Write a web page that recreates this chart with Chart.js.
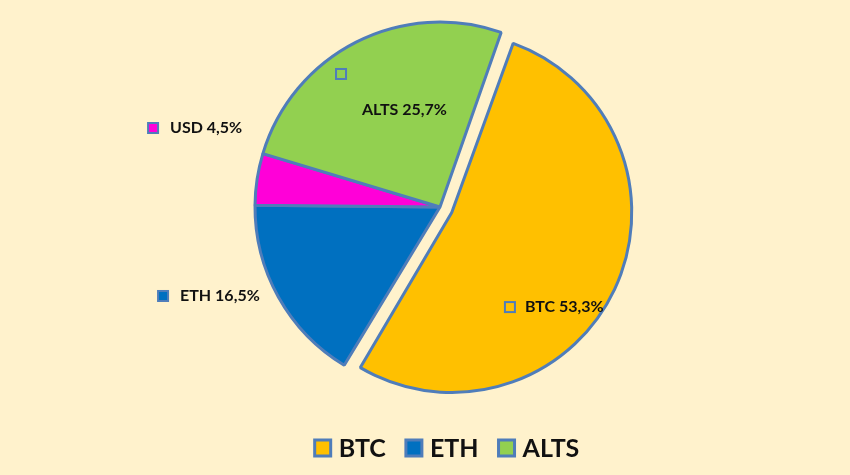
<!DOCTYPE html>
<html>
<head>
<meta charset="utf-8">
<script src="https://cdn.jsdelivr.net/npm/chart.js@4"></script>
<style>
  html, body { margin: 0; padding: 0; background: #FFF2CC; }
  #wrap { width: 850px; height: 475px; }
</style>
</head>
<body>
<div id="wrap"><canvas id="myChart"></canvas></div>
<script>
const labels = ["BTC", "ETH", "USD", "ALTS"];
const shares = [53.3, 16.5, 4.5, 25.7];
const colors = ["#FFC000", "#0070C0", "#FF00D8", "#92D050"];
const legendItems = ["BTC", "ETH", "ALTS"];

const edge = "#4F7DBA";
const pullOut = 13; // px the BTC slice is pulled out
const pulledRadius = 180;

// where each data label sits, in units of the pie radius from its centre
const labelSpots = [
  { box: [0.378, 0.541], text: [0.459, 0.541] },
  { box: [-1.497, 0.481], text: [-1.405, 0.481] },
  { box: [-1.551, -0.427], text: [-1.459, -0.427] },
  { box: [-0.535, -0.719], text: [-0.422, -0.524] },
];

const fmt = (v) => v.toFixed(1).replace(".", ",") + "%";

// chart.js grows an offset arc by the offset, so shrink it back
const pullFix = {
  id: "pullFix",
  afterDatasetsUpdate(chart) {
    const arc = chart.getDatasetMeta(0).data[0];
    arc.outerRadius = pulledRadius - pullOut;
  },
};

const sliceLabels = {
  id: "sliceLabels",
  afterDatasetsDraw(chart) {
    const c = chart.ctx;
    const meta = chart.getDatasetMeta(0);
    const r = meta.controller.outerRadius;
    meta.data.forEach((arc, i) => {
      const s = labelSpots[i];
      const bx = arc.x + s.box[0] * r;
      const by = arc.y + s.box[1] * r;
      c.save();
      c.fillStyle = colors[i];
      c.strokeStyle = edge;
      c.lineWidth = 2;
      c.fillRect(bx - 5, by - 5, 10, 10);
      c.strokeRect(bx - 5, by - 5, 10, 10);
      c.fillStyle = "#111";
      c.font = "bold 16px Lato";
      c.textBaseline = "middle";
      c.textAlign = "left";
      c.fillText(labels[i] + " " + fmt(shares[i]), arc.x + s.text[0] * r, arc.y + s.text[1] * r);
      c.restore();
    });
  },
};

const bottomLegend = {
  id: "bottomLegend",
  afterDraw(chart) {
    const c = chart.ctx;
    const box = 16, gap = 8, between = 20, midX = 447, midY = 448;
    c.save();
    c.font = "bold 25px Lato";
    c.textBaseline = "middle";
    c.textAlign = "left";
    const widths = legendItems.map((t) => c.measureText(t).width);
    const total = widths.reduce((a, w) => a + box + gap + w, 0) + between * (legendItems.length - 1);
    let x = midX - total / 2;
    legendItems.forEach((t, k) => {
      const i = labels.indexOf(t);
      c.fillStyle = colors[i];
      c.strokeStyle = edge;
      c.lineWidth = 3;
      c.fillRect(x, midY - box / 2, box, box);
      c.strokeRect(x, midY - box / 2, box, box);
      x += box + gap;
      c.fillStyle = "#111";
      c.fillText(t, x, midY + 1);
      x += widths[k] + between;
    });
    c.restore();
  },
};

new Chart(document.getElementById("myChart"), {
  type: "pie",
  data: {
    labels: labels,
    datasets: [
      {
        data: shares,
        backgroundColor: colors,
        borderColor: edge,
        borderWidth: 3,
        offset: [pullOut * 4, 0, 0, 0],
        hoverOffset: 0,
      },
    ],
  },
  options: {
    responsive: true,
    maintainAspectRatio: false,
    animation: false,
    rotation: 19.3,
    radius: 185,
    layout: { padding: { left: 30, right: 0, top: 0, bottom: 61 } },
    plugins: {
      tooltip: { enabled: false },
      legend: { display: false },
    },
  },
  plugins: [pullFix, sliceLabels, bottomLegend],
});
</script>
</body>
</html>
